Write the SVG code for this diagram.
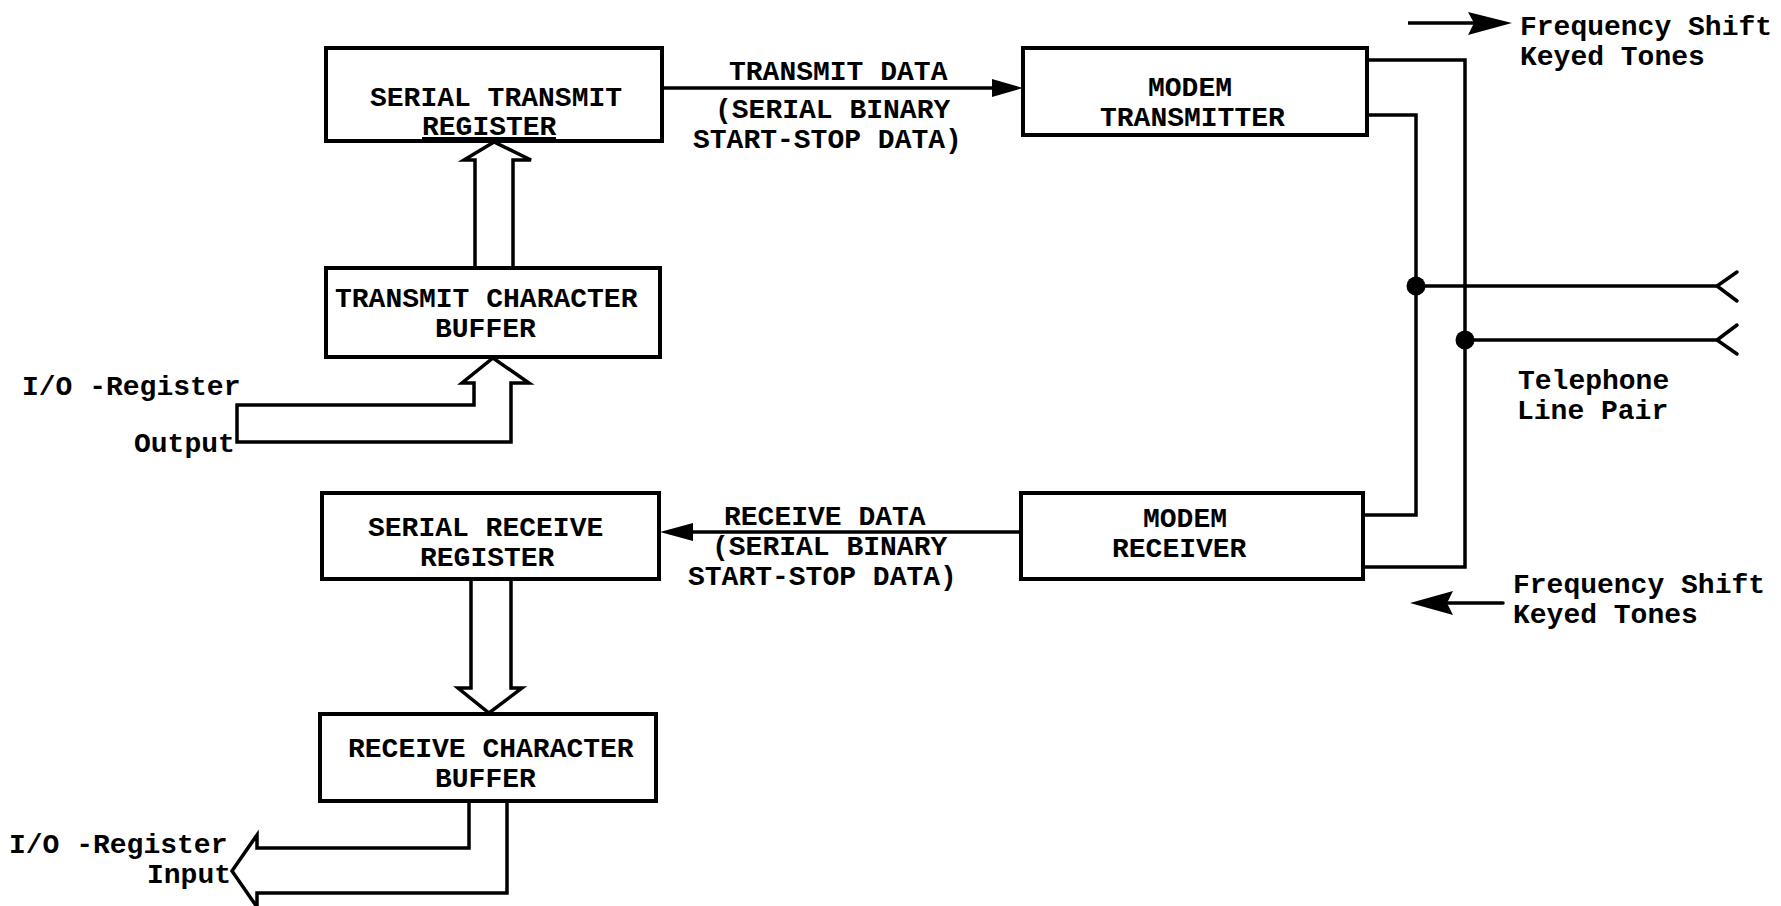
<svg xmlns="http://www.w3.org/2000/svg" width="1781" height="906" viewBox="0 0 1781 906">
<style>
.box{fill:#fff;stroke:#000;stroke-width:4}
.t{font-family:"Liberation Mono","Courier New",monospace;font-weight:bold;font-size:28px;fill:#000}
.ln{fill:none;stroke:#000;stroke-width:3.5;stroke-linejoin:miter}
.hollow{fill:#fff;stroke:#000;stroke-width:3.5;stroke-linejoin:miter}
.solid{fill:#000;stroke:none}
</style>
<rect width="1781" height="906" fill="#fff"/>
<g id="connectors">
  <!-- Transmit data -->
  <line class="ln" x1="662" y1="88" x2="996" y2="88"/>
  <polygon class="solid" points="992,79 1023,88 992,97"/>
  <!-- Receive data -->
  <line class="ln" x1="1021" y1="532" x2="690" y2="532"/>
  <polygon class="solid" points="693,523 660,532 693,541"/>
  <!-- Bus arrows -->
  <polygon class="hollow" points="475,268 475,160 464,160 494,142 531,160 513,160 513,268"/>
  <polygon class="hollow" points="237,405 474,405 474,383 462,383 493,358 529,383 511,383 511,442 237,442"/>
  <polygon class="hollow" points="471,578 471,688 458,688 489,713 522,688 511,688 511,578"/>
  <polygon class="hollow" points="469,800 469,848 257,848 257,835 232,871 257,907 257,893 507,893 507,800"/>
  <!-- Modem to line wiring -->
  <polyline class="ln" points="1367,60 1465,60 1465,567 1363,567"/>
  <polyline class="ln" points="1367,115 1416,115 1416,515 1363,515"/>
  <line class="ln" x1="1416" y1="286" x2="1717" y2="286"/>
  <line class="ln" x1="1465" y1="340" x2="1717" y2="340"/>
  <polyline class="ln" points="1737,272 1717,286 1737,301" stroke-linecap="round"/>
  <polyline class="ln" points="1737,325 1717,340 1737,354" stroke-linecap="round"/>
  <circle cx="1416" cy="286" r="9.5" fill="#000"/>
  <circle cx="1465" cy="340" r="9.5" fill="#000"/>
  <!-- Frequency shift arrows -->
  <line class="ln" x1="1408" y1="23" x2="1476" y2="23"/>
  <polygon class="solid" points="1468,12 1512,23 1468,35 1474,23"/>
  <line class="ln" x1="1448" y1="603" x2="1503" y2="603" stroke-linecap="round"/>
  <polygon class="solid" points="1453,591 1410,603 1453,615 1447,603"/>
</g>
<g id="serial-transmit-register">
  <rect class="box" x="326" y="48" width="336" height="93"/>
  <text class="t" x="370" y="106">SERIAL TRANSMIT</text>
  <text class="t" x="422" y="135">REGISTER</text>
  <line x1="422" y1="138" x2="556" y2="138" stroke="#000" stroke-width="2"/>
</g>
<g id="transmit-character-buffer">
  <rect class="box" x="326" y="268" width="334" height="89"/>
  <text class="t" x="335" y="307">TRANSMIT CHARACTER</text>
  <text class="t" x="435" y="337">BUFFER</text>
</g>
<g id="serial-receive-register">
  <rect class="box" x="322" y="493" width="337" height="86"/>
  <text class="t" x="368" y="536">SERIAL RECEIVE</text>
  <text class="t" x="420" y="566">REGISTER</text>
</g>
<g id="receive-character-buffer">
  <rect class="box" x="320" y="714" width="336" height="87"/>
  <text class="t" x="348" y="757">RECEIVE CHARACTER</text>
  <text class="t" x="435" y="787">BUFFER</text>
</g>
<g id="modem-transmitter">
  <rect class="box" x="1023" y="48" width="344" height="87"/>
  <text class="t" x="1148" y="96">MODEM</text>
  <text class="t" x="1100" y="126">TRANSMITTER</text>
</g>
<g id="modem-receiver">
  <rect class="box" x="1021" y="493" width="342" height="86"/>
  <text class="t" x="1143" y="527">MODEM</text>
  <text class="t" x="1112" y="557">RECEIVER</text>
</g>
<g id="labels">
  <text class="t" x="729" y="80">TRANSMIT DATA</text>
  <text class="t" x="715" y="118">(SERIAL BINARY</text>
  <text class="t" x="693" y="148">START-STOP DATA)</text>
  <text class="t" x="724" y="525">RECEIVE DATA</text>
  <text class="t" x="712" y="555">(SERIAL BINARY</text>
  <text class="t" x="688" y="585">START-STOP DATA)</text>
  <text class="t" x="1520" y="35">Frequency Shift</text>
  <text class="t" x="1520" y="65">Keyed Tones</text>
  <text class="t" x="1518" y="389">Telephone</text>
  <text class="t" x="1517" y="419">Line Pair</text>
  <text class="t" x="1513" y="593">Frequency Shift</text>
  <text class="t" x="1513" y="623">Keyed Tones</text>
  <text class="t" x="22" y="395">I/O -Register</text>
  <text class="t" x="134" y="452">Output</text>
  <text class="t" x="9" y="853">I/O -Register</text>
  <text class="t" x="147" y="883">Input</text>
</g>
</svg>
